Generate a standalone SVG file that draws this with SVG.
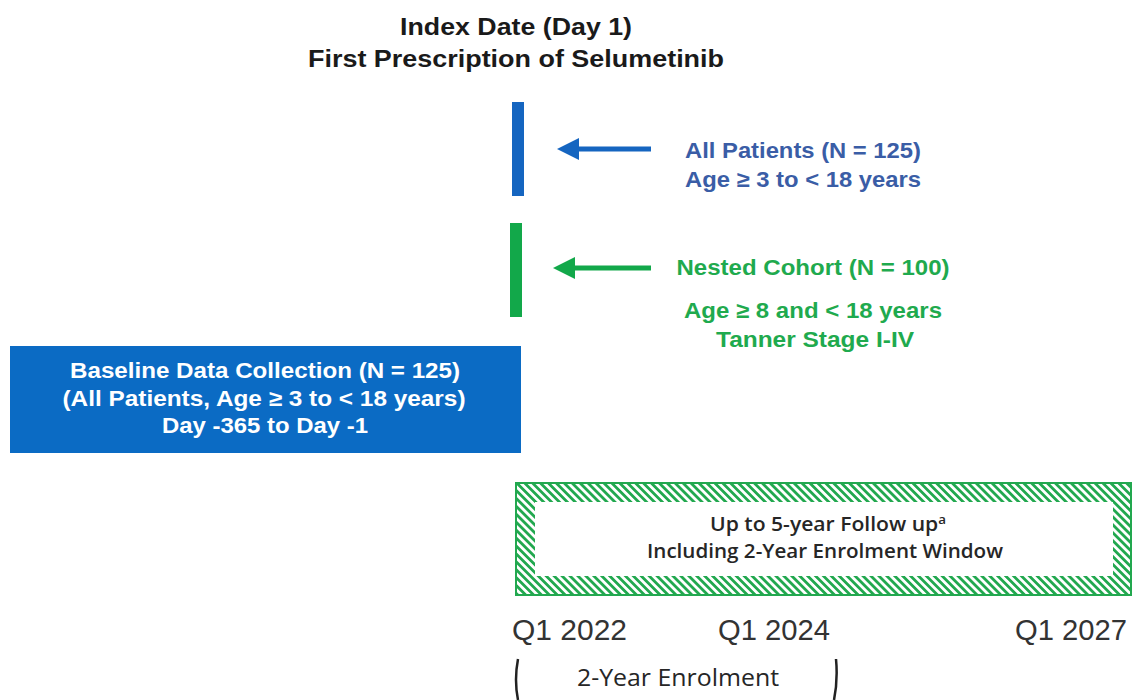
<svg xmlns="http://www.w3.org/2000/svg" width="1133" height="700" viewBox="0 0 1133 700">
<style>
.t{font-family:"Liberation Sans",Arial,sans-serif;font-weight:bold;text-anchor:middle}
.title{font-size:23px;fill:#1a1a1a}
.blue{font-size:22px;fill:#3a5da6}
.green{font-size:22px;fill:#1faa4e}
.white{font-size:22px;fill:#ffffff}
.cal{font-family:"Open Sans","Liberation Sans",sans-serif;text-anchor:middle;fill:#262626}
.q{font-family:"Liberation Sans",Arial,sans-serif;font-size:30px;fill:#333}
</style>
<defs>
<pattern id="hatch" patternUnits="userSpaceOnUse" width="5.6" height="5.6" patternTransform="rotate(-45)">
<rect x="0" y="0" width="5.6" height="5.6" fill="#fff"/>
<rect x="0" y="0" width="2.8" height="5.6" fill="#22a84f"/>
</pattern>
</defs>
<g id="title">
<text class="t title" x="516" y="35" textLength="232" lengthAdjust="spacingAndGlyphs">Index Date (Day 1)</text>
<text class="t title" x="516" y="67" textLength="416" lengthAdjust="spacingAndGlyphs">First Prescription of Selumetinib</text>
</g>
<g id="all-patients-bar"><rect x="512" y="102" width="12" height="94" fill="#1565c0"/></g>
<g id="nested-bar"><rect x="510" y="223" width="12" height="94" fill="#12a84a"/></g>
<g id="connectors">
<line x1="651" y1="149" x2="575" y2="149" stroke="#1565c0" stroke-width="5"/>
<polygon points="557,149 579,138 579,160" fill="#1565c0"/>
<line x1="651" y1="268" x2="571" y2="268" stroke="#12a84a" stroke-width="5"/>
<polygon points="553,268 575,257 575,279" fill="#12a84a"/>
</g>
<g id="all-patients">
<text class="t blue" x="803" y="158" textLength="236" lengthAdjust="spacingAndGlyphs">All Patients (N = 125)</text>
<text class="t blue" x="803" y="187" textLength="236" lengthAdjust="spacingAndGlyphs">Age ≥ 3 to &lt; 18 years</text>
</g>
<g id="nested-cohort">
<text class="t green" x="813" y="275" textLength="273" lengthAdjust="spacingAndGlyphs">Nested Cohort (N = 100)</text>
<text class="t green" x="813" y="318" textLength="258" lengthAdjust="spacingAndGlyphs">Age ≥ 8 and &lt; 18 years</text>
<text class="t green" x="815" y="347" textLength="198" lengthAdjust="spacingAndGlyphs">Tanner Stage I-IV</text>
</g>
<g id="baseline">
<rect x="10" y="346" width="511" height="107" fill="#0b6bc4"/>
<text class="t white" x="265" y="378" textLength="390" lengthAdjust="spacingAndGlyphs">Baseline Data Collection (N = 125)</text>
<text class="t white" x="264" y="406" textLength="403" lengthAdjust="spacingAndGlyphs">(All Patients, Age ≥ 3 to &lt; 18 years)</text>
<text class="t white" x="265" y="433" textLength="206" lengthAdjust="spacingAndGlyphs">Day -365 to Day -1</text>
</g>
<g id="follow-up">
<rect x="516" y="483" width="615" height="112" fill="url(#hatch)" stroke="#22a84f" stroke-width="2"/>
<rect x="535" y="502" width="578" height="74" fill="#fff"/>
<text class="cal" x="828" y="531" font-size="19" font-weight="600" textLength="236" lengthAdjust="spacingAndGlyphs">Up to 5-year Follow up<tspan font-size="12" dy="-7">a</tspan></text>
<text class="cal" x="825" y="558" font-size="19" font-weight="600" textLength="356" lengthAdjust="spacingAndGlyphs">Including 2-Year Enrolment Window</text>
</g>
<g id="timeline">
<text class="q" x="512" y="640" textLength="115" lengthAdjust="spacingAndGlyphs">Q1 2022</text>
<text class="q" x="718" y="640" textLength="112" lengthAdjust="spacingAndGlyphs">Q1 2024</text>
<text class="q" x="1015" y="640" textLength="112" lengthAdjust="spacingAndGlyphs">Q1 2027</text>
</g>
<g id="enrolment">
<path d="M518,659 Q514,680 518,700" fill="none" stroke="#222" stroke-width="2.5"/>
<path d="M836,659 Q838,680 834,700" fill="none" stroke="#222" stroke-width="2.5"/>
<text class="cal" x="678" y="686" font-size="23" textLength="202" lengthAdjust="spacingAndGlyphs">2-Year Enrolment</text>
</g>
</svg>
